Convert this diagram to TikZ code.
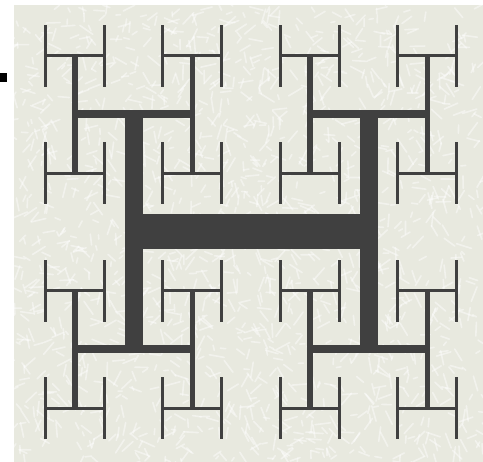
\documentclass[tikz,border=0pt]{standalone}
\begin{document}
\begin{tikzpicture}[x=1pt,y=-1pt,
  htree/.style={draw=hdark,line cap=butt},
  streak/.style={draw=white,opacity=0.45,line width=1.6pt,line cap=round}]
\definecolor{hdark}{RGB}{64,64,64}
\definecolor{paper}{RGB}{232,233,223}
\useasboundingbox (0,0) rectangle (483,462);
\fill[white] (0,0) rectangle (483,462);
% textured background
\fill[paper] (14,5) rectangle (483,462);
\begin{scope}
\clip (14,5) rectangle (483,462);
\pgfmathsetseed{7}
\foreach \i in {1,...,1700}{
  \pgfmathsetmacro{\px}{14+469*rnd}
  \pgfmathsetmacro{\py}{5+457*rnd}
  \pgfmathsetmacro{\an}{360*rnd}
  \pgfmathsetmacro{\ln}{4+12*rnd}
  \draw[streak] (\px,\py) -- ++(\an:\ln);
}
\end{scope}
% small black square
\fill[black] (0,73) rectangle (7,82);
% H-tree
\def\L{235}
\def\cx{251}
\def\cy{232}
% level 0
\draw[htree,line width=35pt] (\cx-\L/2,\cy) -- (\cx+\L/2,\cy);
% level 1
\foreach \sx in {-1,1}{
  \draw[htree,line width=18pt] (\cx+\sx*\L/2,\cy-\L/2) -- (\cx+\sx*\L/2,\cy+\L/2);
}
% level 2
\foreach \sx in {-1,1}{
 \foreach \sy in {-1,1}{
  \draw[htree,line width=8pt] (\cx+\sx*\L/2-\L/4,\cy+\sy*\L/2) -- (\cx+\sx*\L/2+\L/4,\cy+\sy*\L/2);
 }}
% level 3
\foreach \sx in {-1,1}{
 \foreach \sy in {-1,1}{
  \foreach \tx in {-1,1}{
   \draw[htree,line width=5.5pt] (\cx+\sx*\L/2+\tx*\L/4,\cy+\sy*\L/2-\L/4) -- (\cx+\sx*\L/2+\tx*\L/4,\cy+\sy*\L/2+\L/4);
  }}}
% level 4
\foreach \sx in {-1,1}{
 \foreach \sy in {-1,1}{
  \foreach \tx in {-1,1}{
   \foreach \ty in {-1,1}{
    \draw[htree,line width=3.3pt] (\cx+\sx*\L/2+\tx*\L/4-\L/8,\cy+\sy*\L/2+\ty*\L/4) -- (\cx+\sx*\L/2+\tx*\L/4+\L/8,\cy+\sy*\L/2+\ty*\L/4);
   }}}}
% level 5
\foreach \sx in {-1,1}{
 \foreach \sy in {-1,1}{
  \foreach \tx in {-1,1}{
   \foreach \ty in {-1,1}{
    \foreach \ux in {-1,1}{
     \draw[htree,line width=3pt,line cap=rect] (\cx+\sx*\L/2+\tx*\L/4+\ux*\L/8,\cy+\sy*\L/2+\ty*\L/4-\L/8) -- (\cx+\sx*\L/2+\tx*\L/4+\ux*\L/8,\cy+\sy*\L/2+\ty*\L/4+\L/8);
    }}}}}
\end{tikzpicture}
\end{document}
